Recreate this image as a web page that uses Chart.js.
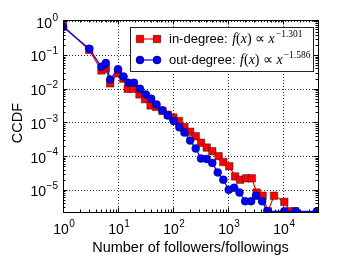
<!DOCTYPE html>
<html><head><meta charset="utf-8">
<script src="https://cdn.jsdelivr.net/npm/chart.js@4"></script>
<style>html,body{margin:0;padding:0;background:#fff}#wrap{width:354px;height:266px}</style>
</head><body><div id="wrap"><canvas id="c" width="354" height="266"></canvas></div>
<script>
// ---- data ----
const inX = [1, 3, 5, 6, 7.2, 10, 12.5, 15, 19, 24.5, 31, 39, 49, 64, 80, 101, 128, 161, 204, 258, 322, 409, 516, 670, 818, 1050, 1340, 1650, 2130, 2700, 3300, 4240, 5300, 6830, 10500, 13400, 16500];
const inY = [0.74, 0.142, 0.035, 0.04, 0.0145, 0.029, 0.02, 0.01, 0.01, 0.0068, 0.0049, 0.0032, 0.0029, 0.0022, 0.0017, 0.0014, 0.0011, 7.3e-4, 5.3e-4, 3.9e-4, 2.5e-4, 1.8e-4, 1.4e-4, 1.0e-4, 6.7e-5, 5.0e-5, 2.5e-5, 2.0e-5, 2.2e-5, 2.2e-5, 8.3e-6, 6.7e-6, 2.3e-6, 6.7e-6, 4.4e-6, 2.3e-6, 2.3e-6];
const outX = [1, 3, 5, 6, 7.2, 10, 12.5, 15.5, 19.5, 25, 32, 40, 50, 64, 81, 103, 130, 161, 204, 258, 322, 409, 516, 648, 818, 1025, 1290, 1610, 2040, 2620, 3220, 4150, 5140, 10500, 17000, 41000];
const outY = [0.68, 0.155, 0.045, 0.058, 0.019, 0.038, 0.023, 0.015, 0.015, 0.01, 0.0068, 0.0051, 0.0034, 0.0023, 0.0016, 0.0011, 7.2e-4, 5.0e-4, 2.9e-4, 1.7e-4, 8.5e-5, 8.3e-5, 6.3e-5, 3.3e-5, 2.0e-5, 1.0e-5, 1.15e-5, 8.3e-6, 4.6e-6, 4.6e-6, 6.7e-6, 4.6e-6, 2.3e-6, 2.3e-6, 2.3e-6, 2.3e-6];
const xMajor = [1, 10, 100, 1000, 10000];
const xExp = ['0', '1', '2', '3', '4'];
const yMajor = [1, 0.1, 0.01, 0.001, 1e-4, 1e-5];
const yExp = ['0', '\u22121', '\u22122', '\u22123', '\u22124', '\u22125'];
const legendLabels = ['in-degree: ', 'out-degree: '];
const legendExps = ['\u22121.301', '\u22121.586'];
const xTitle = 'Number of followers/followings';
const yTitle = 'CCDF';

const SANS = '"Liberation Sans", Arial, sans-serif';
const SERIF = '"Liberation Serif", "Times New Roman", serif';

function drawPow(ctx, x, y, exp, align) {
  ctx.font = '14px ' + SANS;
  const wb = ctx.measureText('10').width;
  ctx.font = '10px ' + SANS;
  const we = ctx.measureText(exp).width;
  const tot = wb + we + 0.5;
  let sx = align === 'right' ? x - tot : x - tot / 2;
  ctx.fillStyle = '#000';
  ctx.textAlign = 'left';
  ctx.textBaseline = 'middle';
  ctx.font = '14px ' + SANS;
  ctx.fillText('10', sx, y + 2.5);
  ctx.font = '10px ' + SANS;
  ctx.fillText(exp, sx + wb + 0.5, y - 3.5);
}

function minorVals(min, max) {
  const out = [];
  for (let d = Math.floor(Math.log10(min)); d <= Math.ceil(Math.log10(max)); d++) {
    for (let k = 1; k <= 9; k++) {
      const v = k * Math.pow(10, d);
      if (v >= min * 0.9999 && v <= max * 1.0001) out.push({v, major: k === 1});
    }
  }
  return out;
}

const decor = {
  id: 'decor',
  beforeDatasetsDraw(chart) {
    const ctx = chart.ctx, a = chart.chartArea;
    const xs = chart.scales.x, ys = chart.scales.y;
    ctx.save();
    ctx.strokeStyle = '#000';
    ctx.lineWidth = 0.8;
    ctx.setLineDash([1, 2]);
    xMajor.forEach(v => {
      const px = Math.round(xs.getPixelForValue(v)) + 0.5;
      if (px > a.left + 1 && px < a.right - 1) {
        ctx.beginPath(); ctx.moveTo(px, a.top); ctx.lineTo(px, a.bottom); ctx.stroke();
      }
    });
    yMajor.forEach(v => {
      const py = Math.round(ys.getPixelForValue(v)) + 0.5;
      if (py > a.top + 1 && py < a.bottom - 1) {
        ctx.beginPath(); ctx.moveTo(a.left, py); ctx.lineTo(a.right, py); ctx.stroke();
      }
    });
    ctx.restore();
  },
  afterDatasetsDraw(chart) {
    const ctx = chart.ctx, a = chart.chartArea;
    const xs = chart.scales.x, ys = chart.scales.y;
    ctx.save();
    ctx.strokeStyle = '#000';
    ctx.lineWidth = 1;
    minorVals(xs.min, xs.max).forEach(t => {
      const px = Math.round(xs.getPixelForValue(t.v)) + 0.5;
      const L = t.major ? 4.5 : 2.5;
      ctx.beginPath();
      ctx.moveTo(px, a.bottom); ctx.lineTo(px, a.bottom - L);
      ctx.moveTo(px, a.top); ctx.lineTo(px, a.top + L);
      ctx.stroke();
    });
    minorVals(ys.min, ys.max).forEach(t => {
      const py = Math.round(ys.getPixelForValue(t.v)) + 0.5;
      const L = t.major ? 4.5 : 2.5;
      ctx.beginPath();
      ctx.moveTo(a.left, py); ctx.lineTo(a.left + L, py);
      ctx.moveTo(a.right, py); ctx.lineTo(a.right - L, py);
      ctx.stroke();
    });
    ctx.strokeRect(Math.round(a.left) + 0.5, Math.round(a.top) + 0.5, Math.round(a.right - a.left), Math.round(a.bottom - a.top));
    xMajor.forEach((v, i) => drawPow(ctx, xs.getPixelForValue(v) + 1, a.bottom + 16, xExp[i], 'center'));
    yMajor.forEach((v, i) => drawPow(ctx, a.left - 5, ys.getPixelForValue(v), yExp[i], 'right'));
    ctx.fillStyle = '#000';
    ctx.font = '14.5px ' + SANS;
    ctx.textAlign = 'center';
    ctx.textBaseline = 'middle';
    ctx.fillText(xTitle, (a.left + a.right) / 2, 248);
    ctx.save();
    ctx.translate(18, (a.top + a.bottom) / 2 + 7);
    ctx.rotate(-Math.PI / 2);
    ctx.fillText(yTitle, 0, 0);
    ctx.restore();
    // legend
    const lx = 130.5, ly = 27.5, lw = 183, lh = 44;
    ctx.fillStyle = '#fff';
    ctx.fillRect(lx, ly, lw, lh);
    ctx.strokeStyle = '#222';
    ctx.lineWidth = 1;
    ctx.strokeRect(lx, ly, lw, lh);
    chart.data.datasets.forEach((ds, i) => {
      const ry = 39 + i * 21;
      ctx.strokeStyle = ds.borderColor;
      ctx.lineWidth = 1.2;
      ctx.beginPath(); ctx.moveTo(140, ry); ctx.lineTo(157, ry); ctx.stroke();
      [140, 157].forEach(mx => {
        ctx.fillStyle = ds.pointBackgroundColor;
        ctx.strokeStyle = '#000';
        ctx.lineWidth = 0.5;
        ctx.beginPath();
        if (ds.pointStyle === 'rect') ctx.rect(mx - 3.7, ry - 3.7, 7.4, 7.4);
        else ctx.arc(mx, ry, 4, 0, Math.PI * 2);
        ctx.fill(); ctx.stroke();
      });
      ctx.fillStyle = '#000';
      ctx.textAlign = 'left';
      ctx.textBaseline = 'middle';
      let x = 169;
      ctx.font = '13px ' + SANS;
      ctx.fillText(legendLabels[i], x, ry);
      x += ctx.measureText(legendLabels[i]).width + 1;
      const parts = [['f', 'italic '], ['(', ''], ['x', 'italic '], [')', ''], [' \u221D ', ''], ['x', 'italic ']];
      parts.forEach(p => {
        ctx.font = p[1] + '14px ' + SERIF;
        ctx.fillText(p[0], x, ry);
        x += ctx.measureText(p[0]).width;
      });
      ctx.font = '9.5px ' + SERIF;
      ctx.fillText(legendExps[i], x + 1, ry - 5);
    });
    ctx.restore();
  }
};

new Chart(document.getElementById('c'), {
  type: 'line',
  data: {
    datasets: [
      {
        label: 'in-degree', order: 2,
        data: inX.map((x, i) => ({x, y: inY[i]})),
        borderColor: '#ff0000', borderWidth: 1.2,
        pointStyle: 'rect', pointRadius: 5.3, pointBackgroundColor: '#ff0000',
        pointBorderColor: '#000', pointBorderWidth: 0.4, clip: 0, tension: 0
      },
      {
        label: 'out-degree', order: 1,
        data: outX.map((x, i) => ({x, y: outY[i]})),
        borderColor: '#0000ff', borderWidth: 1.2,
        pointStyle: 'circle', pointRadius: 4, pointBackgroundColor: '#0000ff',
        pointBorderColor: '#000', pointBorderWidth: 0.4, clip: 0, tension: 0
      }
    ]
  },
  options: {
    responsive: false, animation: false, devicePixelRatio: 1,
    layout: {padding: {left: 0, right: 36, top: 20, bottom: 0}},
    plugins: {legend: {display: false}, tooltip: {enabled: false}},
    scales: {
      x: {
        type: 'logarithmic', min: 1, max: 43000,
        ticks: {display: false}, grid: {display: false}, border: {display: false},
        afterFit(s) { s.height = 54; }
      },
      y: {
        type: 'logarithmic', min: 2.2e-6, max: 1.1,
        ticks: {display: false}, grid: {display: false}, border: {display: false},
        afterFit(s) { s.width = 63; }
      }
    }
  },
  plugins: [decor]
});
</script>
</body></html>
